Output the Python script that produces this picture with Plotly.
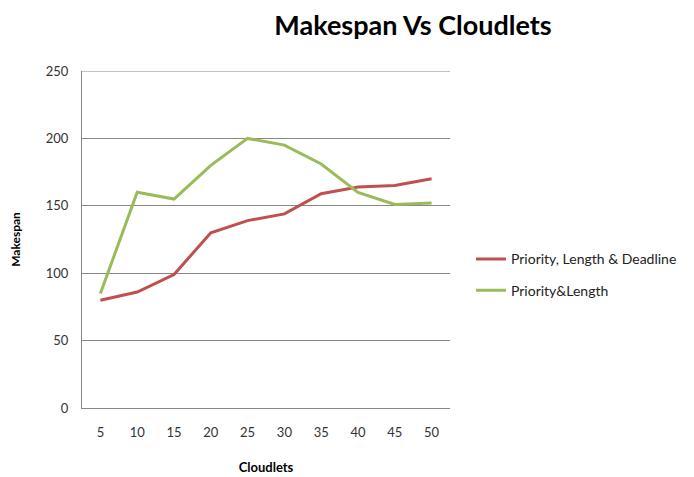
import plotly.graph_objects as go

cloudlets = [5, 10, 15, 20, 25, 30, 35, 40, 45, 50]
pld = [80, 86, 99, 130, 139, 144, 159, 164, 165, 170]
pl = [85, 160, 155, 180, 200, 195, 181, 160, 151, 152]

font = "Lato, 'Open Sans', sans-serif"

# page body has an 8px margin; size figure so it fills the 694x477 window
W, H = 686, 469

fig = go.Figure()
fig.add_trace(go.Scatter(x=cloudlets, y=pld, mode="lines", name="Priority, Length & Deadline",
                         legendgroup="a", line=dict(color="#C0504D", width=3)))
fig.add_trace(go.Scatter(x=cloudlets, y=pl, mode="lines", name="Priority&Length",
                         legendgroup="b", line=dict(color="#9BBB59", width=3)))

fig.add_shape(type="line", xref="paper", yref="y", x0=0, x1=1, y0=250, y1=250,
              line=dict(color="#868686", width=1), layer="below")

fig.update_layout(
    width=W, height=H,
    paper_bgcolor="white", plot_bgcolor="white",
    margin=dict(l=74, r=244, t=63, b=69, autoexpand=False),
    font=dict(family=font, color="#333333", size=13),
    title=dict(text="<b>Makespan Vs Cloudlets</b>", x=405 / W, xanchor="center",
               y=1 - 8 / H, yanchor="top", font=dict(size=27, color="black", family=font)),
    showlegend=True,
    legend=dict(x=1.057, xanchor="left", y=0.395, yanchor="middle",
                font=dict(size=14, color="#222222", family=font),
                tracegroupgap=10, itemwidth=30, bgcolor="rgba(0,0,0,0)"),
    xaxis=dict(range=[2.5, 52.5], tickvals=cloudlets, ticktext=[str(c) for c in cloudlets],
               showgrid=False, zeroline=False, showline=True, linecolor="#868686", linewidth=1,
               ticks="", ticklabelstandoff=12, automargin=False,
               title=dict(text="<b>Cloudlets</b>", font=dict(size=13, color="black", family=font), standoff=24)),
    yaxis=dict(range=[0, 250], dtick=50, showgrid=True, gridcolor="#868686", gridwidth=1,
               zeroline=False, showline=True, linecolor="#868686", linewidth=1, ticks="",
               ticklabelstandoff=10, automargin=False,
               title=dict(text="<b>Makespan</b>", font=dict(size=12, color="black", family=font), standoff=22)),
)

fig.write_html("out.html")
